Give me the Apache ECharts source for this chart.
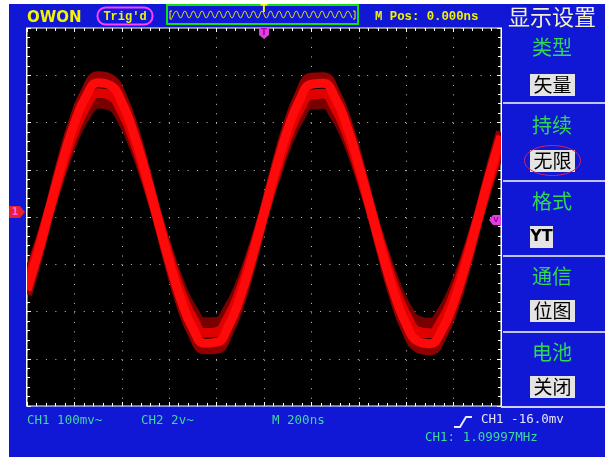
<!DOCTYPE html>
<html><head><meta charset="utf-8">
<script src="https://cdn.jsdelivr.net/npm/echarts@6/dist/echarts.min.js"></script>
<style>html,body{margin:0;padding:0;background:#fff;}#c{width:605px;height:457px;}</style>
</head><body><div id="c"></div>
<script>
// time axis (ns), 200 ns/div, trigger at centre
const timeNs = [-1000,-950,-900,-850,-800,-750,-700,-650,-600,-550,-500,-450,-400,-350,-300,-250,-200,-150,-100,-50,0,50,100,150,200,250,300,350,400,450,500,550,600,650,700,750,800,850,900,950,1000];
// CH1 persistence traces (mV), 100 mV/div
const traceHigh = [-164,-74,26,124,208,268,298,293,255,187,98,-1,-99,-185,-248,-280,-279,-243,-178,-91,8,107,194,259,295,296,264,201,115,17,-82,-171,-239,-277,-282,-252,-192,-108,-10,90,180];
const traceMidHigh = [-155,-70,25,118,198,256,284,279,243,178,94,-1,-94,-176,-236,-267,-265,-231,-169,-86,8,102,185,247,281,283,252,192,110,17,-78,-162,-227,-263,-268,-240,-182,-102,-9,86,171];
const traceMidLow = [-143,-64,24,110,183,236,262,258,224,165,87,0,-86,-161,-216,-245,-243,-212,-155,-79,8,95,171,228,259,261,232,177,102,16,-71,-149,-208,-242,-246,-220,-167,-94,-8,80,159];
const traceLow = [-130,-58,23,101,168,216,240,236,206,151,80,1,-78,-147,-197,-223,-222,-193,-141,-71,8,87,157,209,238,239,213,163,94,15,-64,-135,-190,-220,-224,-200,-152,-85,-7,74,146];
// memory-depth strip
const memoryWave = [0,1,0,1,0,1,0,1,0,1,0,1,0,1,0,1,0,1,0,1,0,1,0,1,0,1,0,1,0,1,0,1,0,1,0,1,0,1,0,1,0,1,0];
// texts
const menuTitles = ['类型','持续','格式','通信','电池'];
const menuValues = ['矢量','无限','YT','位图','关闭'];

const pairs = arr => arr.map((v,i)=>[timeNs[i], v]);
const chart = echarts.init(document.getElementById('c'), null, {renderer:'canvas'});

const BLUE = '#1018d6';
const YEL = '#f4f400';
const GRN = '#3fd8a0';
const dotX = [1, 8.48];
const dotY = [1, 8.45];

function txt(x, y, s, fill, font, align, z){
  return {type:'text', x:x, y:y, z: z||50, style:{text:s, fill:fill, font:font, textAlign:align||'left', textVerticalAlign:'middle', align:align||'left', verticalAlign:'middle'}};
}
const els = [];
els.push({type:'rect', z:1, shape:{x:0,y:0,width:9,height:457}, style:{fill:'#fff'}});
els.push({type:'rect', z:1, shape:{x:0,y:0,width:605,height:4}, style:{fill:'#fff'}});
// covers for trace overflow beyond the screen edges + redrawn borders
els.push({type:'rect', z:40, shape:{x:9,y:28,width:17.5,height:379}, style:{fill:BLUE}});
els.push({type:'rect', z:40, shape:{x:502,y:28,width:103,height:379}, style:{fill:BLUE}});
els.push({type:'line', z:41, shape:{x1:26.5,y1:27.5,x2:26.5,y2:406.5}, style:{stroke:'#fff', lineWidth:1}});
els.push({type:'line', z:41, shape:{x1:501.5,y1:27.5,x2:501.5,y2:407}, style:{stroke:'#fff', lineWidth:1}});
// top bar
els.push(txt(27, 18, 'OWON', YEL, 'bold 15px "DejaVu Sans"'));
els.push({type:'rect', z:50, shape:{x:97.5,y:7.5,width:55,height:17,r:8}, style:{fill:'none', stroke:'#ff40ff', lineWidth:2}});
els.push(txt(125, 16.5, "Trig'd", YEL, 'bold 12px "Liberation Mono"', 'center'));
els.push({type:'rect', z:50, shape:{x:167,y:5,width:191,height:19}, style:{fill:'none', stroke:'#10e010', lineWidth:2}});
els.push({type:'polyline', z:51, shape:{points:[[172,11],[170,11],[170,19],[172,19]]}, style:{stroke:YEL, lineWidth:1, fill:'none'}});
els.push({type:'polyline', z:51, shape:{points:[[353,11],[355,11],[355,19],[353,19]]}, style:{stroke:YEL, lineWidth:1, fill:'none'}});
els.push(txt(264, 9.5, 'T', YEL, 'bold 10px "DejaVu Sans"', 'center'));
els.push(txt(375, 16.5, 'M Pos: 0.000ns', YEL, 'bold 12.3px "Liberation Mono"'));
els.push(txt(552, 17, '显示设置', '#f2f0c8', '22px "Noto Sans CJK SC"', 'center'));
// right menu
const sepY = [103, 181, 256, 332];
sepY.forEach(y=>els.push({type:'line', z:50, shape:{x1:503,y1:y,x2:605,y2:y}, style:{stroke:'#c0c4e8', lineWidth:2}}));
const titleY = [47, 125, 201, 276, 352];
const boxY = [74, 150, 226, 300, 376];
menuTitles.forEach((t,i)=>els.push(txt(552, titleY[i], t, '#30d850', '20px "Noto Sans CJK SC"', 'center')));
menuValues.forEach((t,i)=>{
  const w = t==='YT' ? 23 : 45;
  els.push({type:'rect', z:50, shape:{x:530,y:boxY[i],width:w,height:22}, style:{fill:'#e4e4e4'}});
  els.push(txt(530 + w/2, boxY[i]+11, t, '#000', t==='YT' ? 'bold 16px "DejaVu Sans"' : '19px "Noto Sans CJK SC"', 'center', 51));
});
els.push({type:'ellipse', z:52, shape:{cx:552.5, cy:160.5, rx:28, ry:15}, style:{fill:'none', stroke:'#e02050', lineWidth:1}});
// bottom
els.push({type:'line', z:50, shape:{x1:501,y1:407,x2:605,y2:407}, style:{stroke:'#d0d0e8', lineWidth:2}});
els.push(txt(27, 421, 'CH1 100mv~', GRN, '12.5px "DejaVu Sans Mono"'));
els.push(txt(141, 421, 'CH2 2v~', GRN, '12.5px "DejaVu Sans Mono"'));
els.push(txt(272, 421, 'M 200ns', GRN, '12.5px "DejaVu Sans Mono"'));
els.push({type:'polyline', z:50, shape:{points:[[454,427],[460,427],[466,417],[472,417]]}, style:{stroke:'#e8e8ff', lineWidth:2, fill:'none'}});
els.push(txt(481, 420, 'CH1 -16.0mv', '#e6e4ff', '12.5px "DejaVu Sans Mono"'));
els.push(txt(425, 438, 'CH1: 1.09997MHz', GRN, '12.5px "DejaVu Sans Mono"'));
// markers
els.push({type:'polygon', z:60, shape:{points:[[9,206],[20,206],[25,212],[20,218],[9,218]]}, style:{fill:'#e82030'}});
els.push(txt(15, 212, '1', '#ff60ff', 'bold 10px "DejaVu Sans"', 'center', 61));
els.push({type:'polygon', z:60, shape:{points:[[259,28],[269,28],[269,35],[264,39],[259,35]]}, style:{fill:'#e040e0'}});
els.push(txt(264, 33, 'T', '#a000a0', 'bold 8px "DejaVu Sans"', 'center', 61));
els.push({type:'polygon', z:60, shape:{points:[[501,215],[493,215],[489,220],[493,225],[501,225]]}, style:{fill:'#e040e0'}});
els.push(txt(496, 220, 'V', '#a000a0', 'bold 7px "DejaVu Sans"', 'center', 61));

const tickStyle = {color:'#ffffff', width:1};
const baseX = {type:'value', gridIndex:0, min:-1000, max:1000, interval:200, axisLabel:{show:false}, axisLine:{show:false, onZero:false}};
const baseY = {type:'value', gridIndex:0, min:-400, max:400, interval:100, axisLabel:{show:false}, axisLine:{show:false, onZero:false}};

const option = {
  backgroundColor: BLUE,
  animation: false,
  grid: [
    {left:27, top:28, width:474, height:378, show:true, backgroundColor:'#000', borderColor:'#ffffff', borderWidth:1},
    {left:172, top:11, width:180, height:7, show:false}
  ],
  xAxis: [
    Object.assign({}, baseX, {position:'bottom', axisTick:{inside:true, length:4, lineStyle:tickStyle}, minorTick:{show:true, splitNumber:5, length:3, lineStyle:tickStyle}, splitLine:{show:true, lineStyle:{color:'#c0c0c0', width:1, type:dotX}}}),
    Object.assign({}, baseX, {position:'top', axisTick:{inside:true, length:4, lineStyle:tickStyle}, minorTick:{show:true, splitNumber:5, length:3, lineStyle:tickStyle}, splitLine:{show:false}}),
    {type:'value', gridIndex:1, min:0, max:42, show:false}
  ],
  yAxis: [
    Object.assign({}, baseY, {position:'left', axisTick:{inside:true, length:4, lineStyle:tickStyle}, minorTick:{show:true, splitNumber:5, length:3, lineStyle:tickStyle}, splitLine:{show:true, lineStyle:{color:'#c0c0c0', width:1, type:dotY}}}),
    Object.assign({}, baseY, {position:'right', axisTick:{inside:true, length:4, lineStyle:tickStyle}, minorTick:{show:true, splitNumber:5, length:3, lineStyle:tickStyle}, splitLine:{show:false}}),
    {type:'value', gridIndex:1, min:0, max:1, show:false}
  ],
  series: [
    {type:'line', xAxisIndex:0, yAxisIndex:0, data:pairs(traceLow), smooth:true, showSymbol:false, lineStyle:{color:'#780000', width:10}, z:2},
    {type:'line', xAxisIndex:0, yAxisIndex:0, data:pairs(traceHigh), smooth:true, showSymbol:false, lineStyle:{color:'#900000', width:10}, z:3},
    {type:'line', xAxisIndex:0, yAxisIndex:0, data:pairs(traceMidLow), smooth:true, showSymbol:false, lineStyle:{color:'#e00000', width:10}, z:4},
    {type:'line', xAxisIndex:0, yAxisIndex:0, data:pairs(traceMidHigh), smooth:true, showSymbol:false, lineStyle:{color:'#ff0a0a', width:9}, z:5},
    {type:'line', xAxisIndex:2, yAxisIndex:2, data:memoryWave.map((v,i)=>[i,v]), smooth:0.4, showSymbol:false, lineStyle:{color:YEL, width:1}, z:5}
  ],
  graphic: {elements: els}
};
chart.setOption(option);
</script>
</body></html>
